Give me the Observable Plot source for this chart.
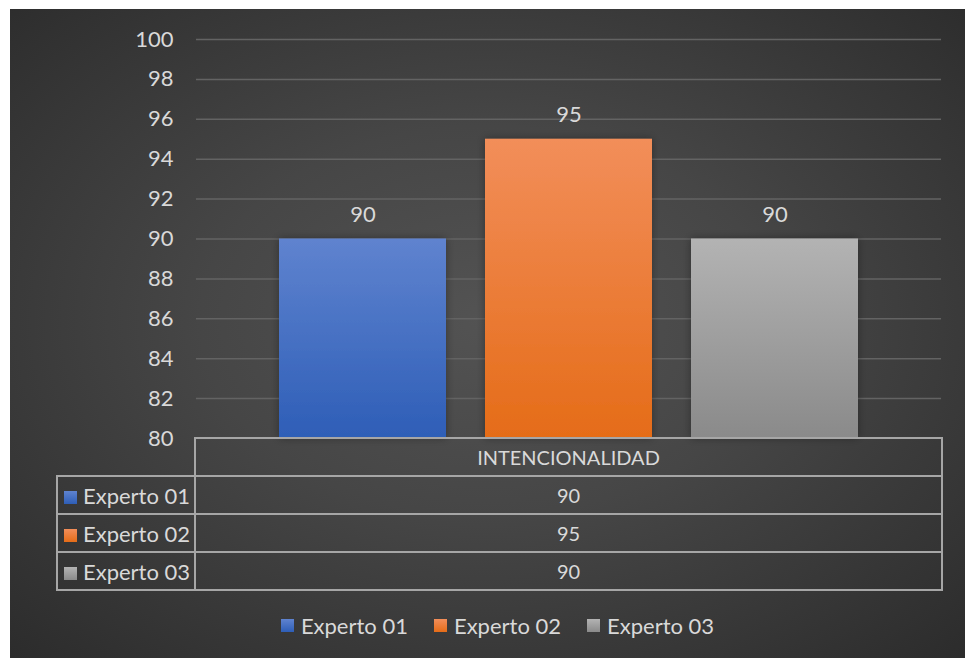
<!DOCTYPE html>
<html>
<head>
<meta charset="utf-8">
<script src="https://cdn.jsdelivr.net/npm/d3@7"></script>
<script src="https://cdn.jsdelivr.net/npm/@observablehq/plot@0.6"></script>
<style>
  html, body { margin: 0; padding: 0; background: #ffffff; }
  #wrap { position: relative; width: 965px; height: 658px; overflow: hidden; font-family: Lato, "Noto Sans", sans-serif; }
  #bg { position: absolute; left: 10px; top: 9px; width: 955px; height: 649px;
        background: radial-gradient(ellipse 75% 75% at 50% 48%, #535353 0%, #464646 40%, #2a2a2a 100%); }
  #chart { position: absolute; left: 0; top: 0; }
  #chart svg { overflow: visible; }
  #table { position: absolute; left: 56px; top: 437px; border-collapse: collapse; color: #d9d9d9; }
  #table td { border: 2px solid #a6a6a6; padding: 0; height: 36px; }
  #table td.blank { border: none; border-bottom: 2px solid #a6a6a6; }
  #table td.lab { width: 136px; font-size: 22px; white-space: nowrap; }
  #table td.val { width: 745px; text-align: center; font-size: 20px; }
  .key { display: inline-block; width: 13px; height: 13px; margin: 0 6px 0 6px; vertical-align: 0px; }
  #legend { position: absolute; left: 10px; top: 612px; width: 975px; display: flex; justify-content: center; gap: 26px; color: #d9d9d9; font-size: 22px; }
  #legend .key { margin: 0 7px 0 0; }
</style>
</head>
<body>
<div id="wrap">
  <div id="bg"></div>
  <div id="chart"></div>
  <table id="table"></table>
  <div id="legend"></div>
</div>
<script>
const category = "INTENCIONALIDAD";
const experts = ["Experto 01", "Experto 02", "Experto 03"];
const values = [90, 95, 90];
const yTicks = [80, 82, 84, 86, 88, 90, 92, 94, 96, 98, 100];
const gradTop = ["#5f83cf", "#f28e5a", "#b3b3b3"];
const gradBottom = ["#2e5eb7", "#e56c18", "#8a8a8a"];

const data = experts.map((e, i) => ({expert: e, value: values[i]}));
const gradIds = experts.map((e, i) => `g${i}`);
const gradUrls = gradIds.map(id => `url(#${id})`);

const plot = Plot.plot({
  width: 965,
  height: 452,
  marginLeft: 196,
  marginRight: 24,
  marginTop: 39,
  marginBottom: 14,
  style: {background: "transparent", color: "#d9d9d9", fontFamily: "Lato, 'Noto Sans', sans-serif", fontSize: "22px", overflow: "visible"},
  x: {domain: experts, paddingInner: 0.19, paddingOuter: 0.40, axis: null},
  y: {domain: [80, 100], ticks: yTicks, tickSize: 0, tickPadding: 23, label: null, tickFormat: d => String(d)},
  color: {domain: experts, range: gradUrls},
  marks: [
    Plot.gridY(yTicks.filter(t => t > 80), {stroke: "#636363", strokeOpacity: 1, strokeWidth: 1.5}),
    Plot.barY(data, {x: "expert", y1: 80, y2: "value", fill: "expert", className: "bars"}),
    Plot.text(data, {x: "expert", y: "value", text: d => String(d.value), dy: -24, fill: "#d9d9d9", fontSize: 22}),
    Plot.axisY({ticks: yTicks, tickSize: 0, tickPadding: 23, fontSize: 22, fill: "#d9d9d9", label: null})
  ]
});

const svg = d3.select(plot);
const defs = svg.insert("defs", ":first-child");
gradIds.forEach((id, i) => {
  const g = defs.append("linearGradient").attr("id", id).attr("x1", 0).attr("y1", 0).attr("x2", 0).attr("y2", 1);
  g.append("stop").attr("offset", "0%").attr("stop-color", gradTop[i]);
  g.append("stop").attr("offset", "100%").attr("stop-color", gradBottom[i]);
});
const f = defs.append("filter").attr("id", "shadow").attr("x", "-10%").attr("y", "-10%").attr("width", "120%").attr("height", "120%");
f.append("feDropShadow").attr("dx", 0).attr("dy", 0).attr("stdDeviation", 4).attr("flood-color", "#000").attr("flood-opacity", 0.35);
svg.selectAll("g.bars rect, g[aria-label='bar'] rect").attr("filter", "url(#shadow)");
document.getElementById("chart").appendChild(plot);

// data table
const table = d3.select("#table");
const head = table.append("tr");
head.append("td").attr("class", "blank lab");
head.append("td").attr("class", "val").text(category);
experts.forEach((e, i) => {
  const tr = table.append("tr");
  const lab = tr.append("td").attr("class", "lab");
  lab.append("span").attr("class", "key").style("background", `linear-gradient(${gradTop[i]}, ${gradBottom[i]})`);
  lab.append("span").text(e);
  tr.append("td").attr("class", "val").text(values[i]);
});

// legend
const legend = d3.select("#legend");
experts.forEach((e, i) => {
  const item = legend.append("div").style("display", "flex").style("align-items", "center");
  item.append("span").attr("class", "key").style("background", `linear-gradient(${gradTop[i]}, ${gradBottom[i]})`);
  item.append("span").text(e);
});
</script>
</body>
</html>
